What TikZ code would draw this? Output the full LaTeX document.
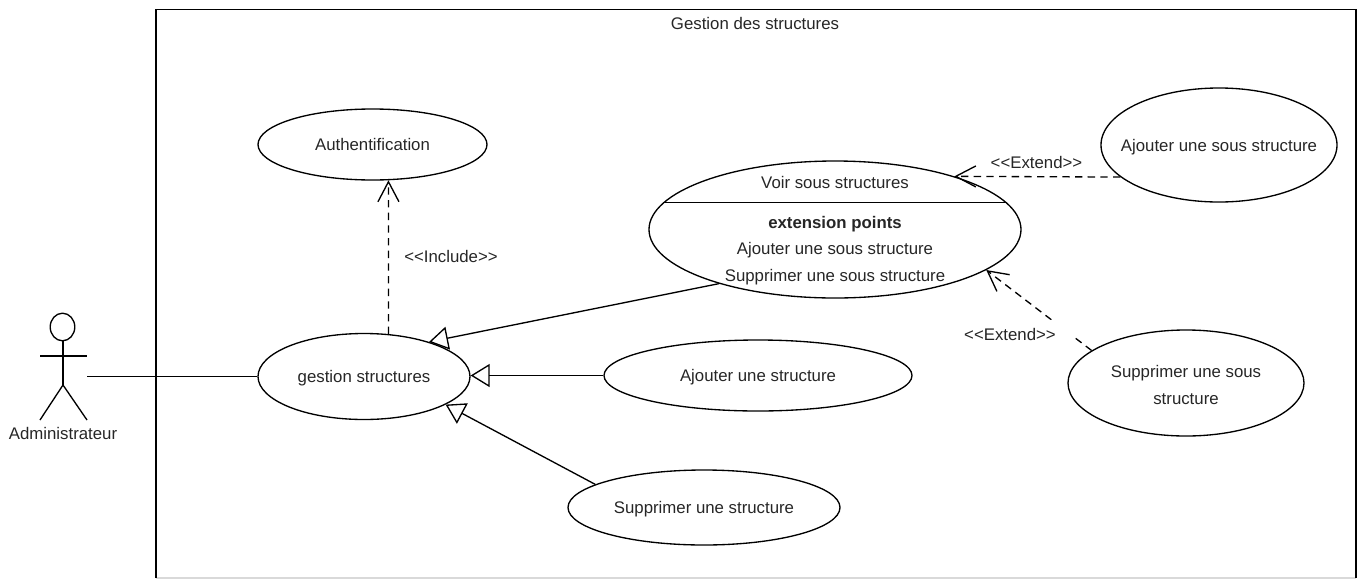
\documentclass[tikz,border=0pt]{standalone}
\usepackage{fontspec}
\setmainfont{Liberation Sans}
\usetikzlibrary{shapes.geometric,arrows.meta}

\tikzset{every picture/.style={line width=1pt}}
\tikzset{
  usecase/.style={ellipse,draw,inner sep=0pt,text height=9pt,text depth=0pt,text=black!85,font=\fontsize{12.6}{15}\selectfont},
  txt/.style={inner sep=0pt,text height=9pt,text depth=0pt,text=black!85,font=\fontsize{12.6}{15}\selectfont},
  assoc/.style={draw},
  general/.style={draw,-{Triangle[open,length=14.25pt,width=17.25pt]}},
  stereo/.style={draw,dash pattern=on 5.5pt off 4pt,-{Straight Barb[length=15pt,width=15.75pt]}}
}

\begin{document}
\begin{tikzpicture}[x=0.75pt,y=0.75pt,yscale=-1,xscale=1]
        \useasboundingbox (0,0) rectangle (1357,579);

        %Shape: Frame
        \draw [color=black!15] (156,578) -- (1356,578) ;
        \draw (156,578) -- (156,9.5) -- (1356,9.5) -- (1356,578) ;
        % Text Node
        \node (title) [txt] at (755,23) {Gestion des structures};

        %Shape: Actor
        \draw (62.5,327) ellipse (12.3 and 13.8) ;
        \draw (63,341) -- (63,385) ;
        \draw (40,356) -- (87,356) ;
        \draw (40,420) -- (63,385) -- (87,420) ;
        \coordinate (hand) at (87,376.5) ;
        % Text Node
        \node (admin) [txt] at (63,433.5) {Administrateur};

        %Shape: Ellipses
        \node (auth) [usecase,minimum width=171.75pt,minimum height=53.25pt] at (372.5,144.5) {Authentification};
        \node (voir) [usecase,minimum width=279pt,minimum height=102.75pt] at (835,229.5) {};
        \node (ajoutsous) [usecase,minimum width=177pt,minimum height=85.5pt] at (1219,145) {\makebox[0pt]{Ajouter une sous structure}};
        \node (gestion) [usecase,minimum width=159pt,minimum height=64.5pt] at (364,376.5) {gestion structures};
        \node (ajoutstruct) [usecase,minimum width=231pt,minimum height=53.25pt] at (758,375.5) {Ajouter une structure};
        \node (supprstruct) [usecase,minimum width=204pt,minimum height=56.25pt] at (704,507.5) {Supprimer une structure};
        \node (supprsous) [usecase,minimum width=177pt,minimum height=79.5pt] at (1186,383) {};
        % Text Node
        \node (supprsousa) [txt] at (1186,371.5) {Supprimer une sous};
        \node (supprsousb) [txt] at (1186,398.5) {structure};

        %Straight Lines: compartment of voir
        \draw (voir.171) -- (voir.171 -| voir.9.2) ;
        % Text Node
        \node (voirtitle) [txt] at (835,182) {Voir sous structures};
        \node (extpoints) [txt] at (835,222) {\textbf{extension points}};
        \node (extajout) [txt] at (835,248.5) {Ajouter une sous structure};
        \node (extsuppr) [txt] at (835,275) {Supprimer une sous structure};

        %Straight Lines
        \path [assoc] (hand) -- (gestion.west) ;
        \path [general] (ajoutstruct.west) -- (gestion.east |- ajoutstruct.west) ;
        \path [general] (voir.205.4) -- (gestion.28.3) ;
        \path [general] (supprstruct.168) -- (gestion.-19.2) ;
        \path [stereo] (gestion.60) -- (auth.-66) ;
        \path [stereo] (ajoutsous.198) -- (voir.24) ;
        \path [stereo] (supprsous.161.75) -- (voir.-15.3) ;

        % Text Node
        \node (include) [txt] at (451,256.5) {<{}<Include>{}>};
        \node (extendtop) [txt] at (1036.5,162) {<{}<Extend>{}>};
        \node (extendbot) [txt,fill=white,minimum width=93pt,minimum height=22.5pt] at (1010,334.5) {<{}<Extend>{}>};

\end{tikzpicture}
\end{document}
